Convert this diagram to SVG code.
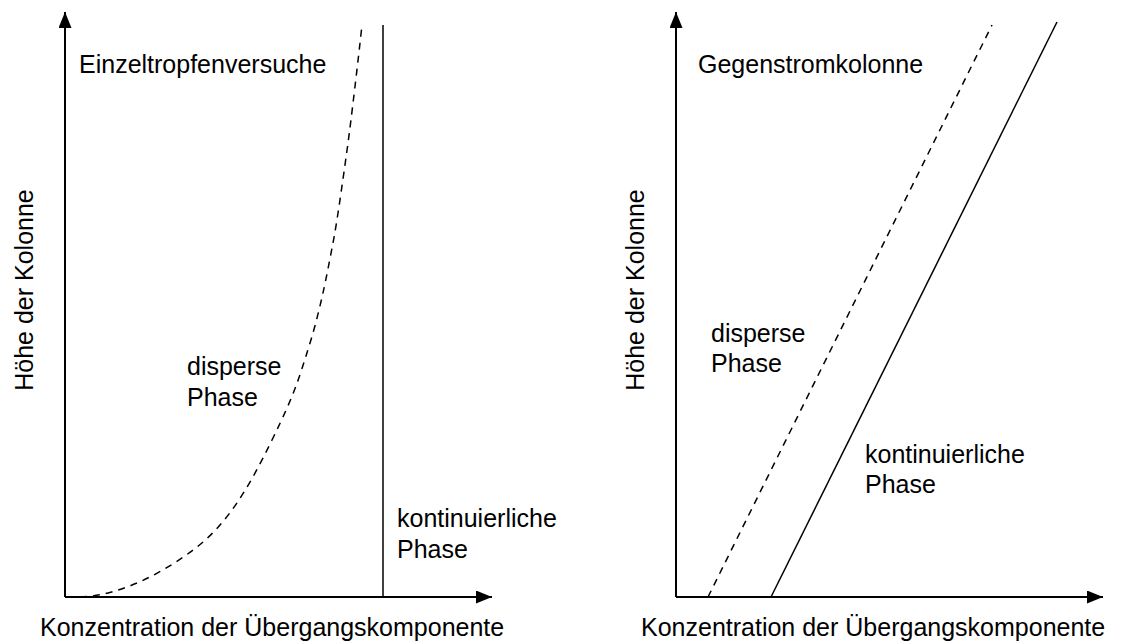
<svg xmlns="http://www.w3.org/2000/svg" width="1123" height="644" viewBox="0 0 1123 644">
<style>
text{font-family:"Liberation Sans",Arial,sans-serif;font-size:25px;fill:#000}
.axis{stroke:#000;stroke-width:2;fill:none}
.solid{stroke:#000;stroke-width:1.5;fill:none}
.dash{stroke:#000;stroke-width:1.5;fill:none;stroke-dasharray:7,6}
</style>
<defs>
<marker id="ah" viewBox="0 0 16 13" refX="16" refY="6.5" markerWidth="16" markerHeight="13" markerUnits="userSpaceOnUse" orient="auto">
<path d="M0,0 L16,6.5 L0,13 Z" fill="#000"/>
</marker>
</defs>
<rect width="1123" height="644" fill="#fff"/>
<g id="left-chart">
<g id="left-axes">
<line class="axis" x1="65" y1="597" x2="65" y2="12" marker-end="url(#ah)"/>
<line class="axis" x1="65" y1="597" x2="492" y2="597" marker-end="url(#ah)"/>
</g>
<path id="left-disperse" class="dash" d="M80,597 C120,596 165,572 197,547 S250,485 272,440 S298,382 310,343 S329,263 333,243 S345,165 348,143 S358,62 362,25"/>
<line id="left-kont" class="solid" x1="383" y1="25" x2="383" y2="597"/>
<text x="79" y="73">Einzeltropfenversuche</text>
<text x="187" y="375">disperse</text>
<text x="187" y="406">Phase</text>
<text x="397" y="527">kontinuierliche</text>
<text x="397" y="558">Phase</text>
<text transform="translate(33,290) rotate(-90)" text-anchor="middle">Höhe der Kolonne</text>
<text x="40" y="636">Konzentration der Übergangskomponente</text>
</g>
<g id="right-chart">
<g id="right-axes">
<line class="axis" x1="676" y1="597" x2="676" y2="12" marker-end="url(#ah)"/>
<line class="axis" x1="676" y1="597" x2="1103" y2="597" marker-end="url(#ah)"/>
</g>
<line id="right-disperse" class="dash" x1="708" y1="597" x2="992" y2="25"/>
<line id="right-kont" class="solid" x1="771" y1="597" x2="1057" y2="22"/>
<text x="698" y="73">Gegenstromkolonne</text>
<text x="711" y="342">disperse</text>
<text x="711" y="372">Phase</text>
<text x="865" y="463">kontinuierliche</text>
<text x="865" y="493">Phase</text>
<text transform="translate(644,290) rotate(-90)" text-anchor="middle">Höhe der Kolonne</text>
<text x="641" y="636">Konzentration der Übergangskomponente</text>
</g>
</svg>
